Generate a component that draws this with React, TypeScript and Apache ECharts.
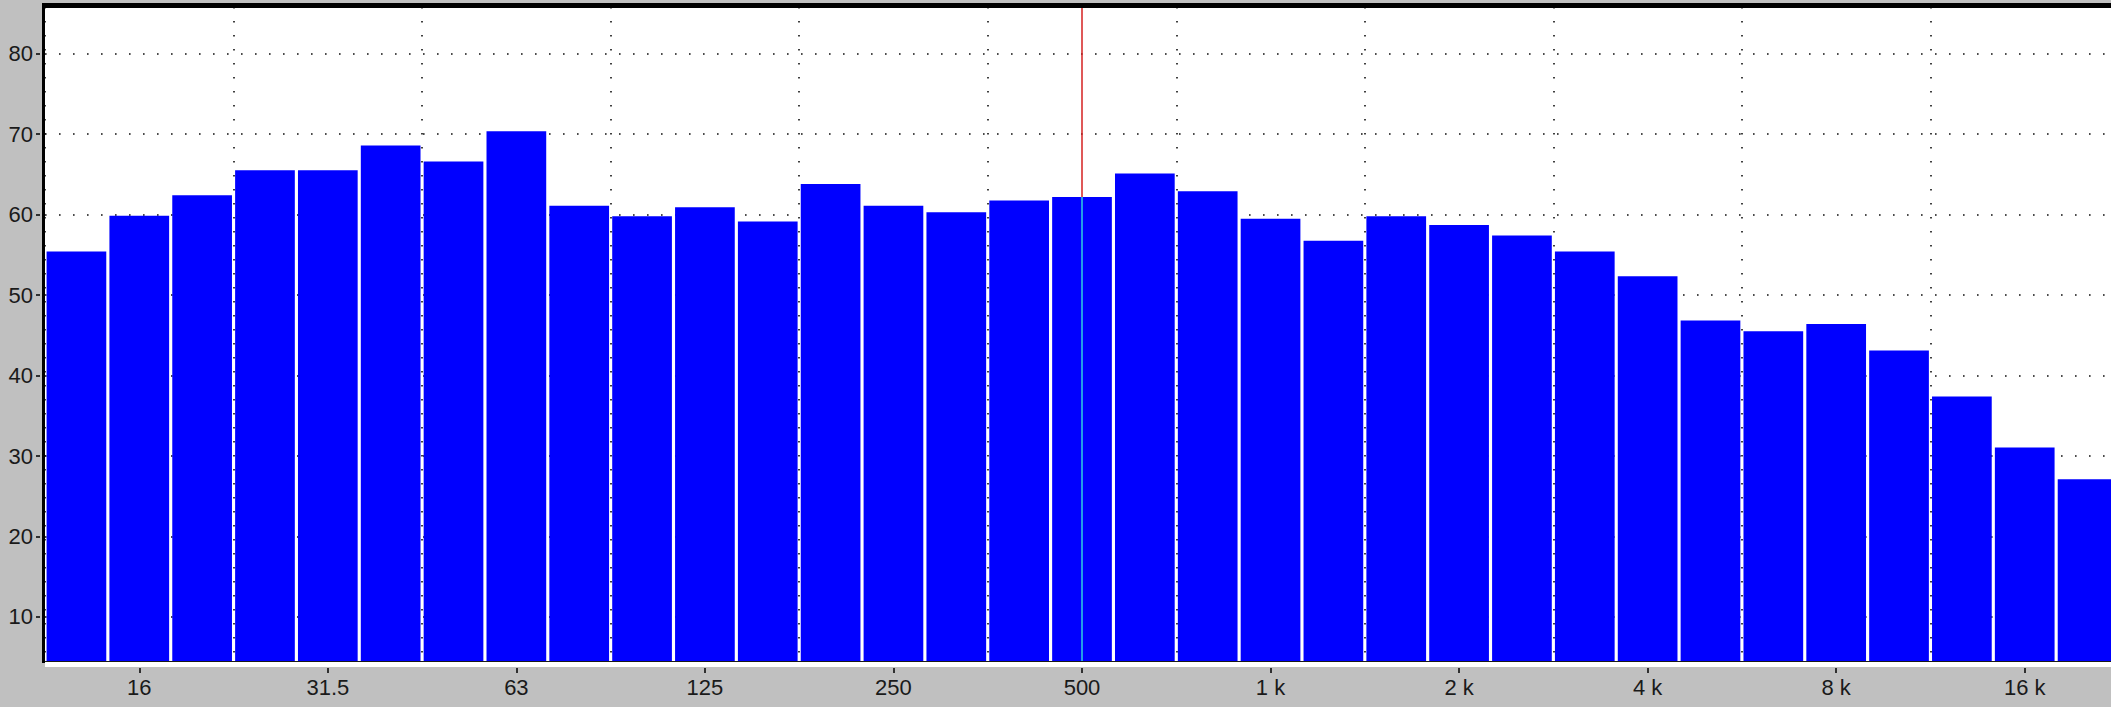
import React, { useEffect, useRef } from 'react';
import * as echarts from 'echarts';

const bands = ['12.5', '16', '20', '25', '31.5', '40', '50', '63', '80', '100', '125', '160', '200', '250', '315', '400', '500', '630', '800', '1 k', '1.25 k', '1.6 k', '2 k', '2.5 k', '3.15 k', '4 k', '5 k', '6.3 k', '8 k', '10 k', '12.5 k', '16 k', '20 k'];
const levels = [55.4, 59.85, 62.4, 65.5, 65.5, 68.6, 66.6, 70.35, 61.1, 59.8, 60.9, 59.15, 63.8, 61.1, 60.3, 61.75, 62.2, 65.1, 62.9, 59.5, 56.75, 59.8, 58.7, 57.4, 55.4, 52.35, 46.85, 45.5, 46.4, 43.1, 37.4, 31.05, 27.1];
const yTicks = [10, 20, 30, 40, 50, 60, 70, 80];
const yRange = [4.4, 85.8];
const cursorBand = '500';

export default function App() {
  const ref = useRef<HTMLDivElement>(null);
  useEffect(() => {
    if (!ref.current) return;
    const chart = echarts.init(ref.current, undefined, { renderer: 'svg' });
    const cursorLevel = levels[bands.indexOf(cursorBand)];
    const dotted = { color: '#111', width: 1.6, type: [1.6, 12.4] as any };
    const font = { fontFamily: 'Liberation Sans, Arial, sans-serif', fontSize: 22, color: '#1a1a1a' };
    chart.setOption({
      animation: false,
      backgroundColor: '#c0c0c0',
      grid: { left: 45, top: 7, width: 2074, height: 655, show: true, backgroundColor: '#ffffff', borderWidth: 0 },
      xAxis: {
        type: 'category',
        data: bands,
        boundaryGap: true,
        offset: 6,
        axisLine: { show: false },
        axisTick: { show: true, alignWithLabel: true, interval: (i: number) => i % 3 === 1, length: 5, lineStyle: { color: '#000', width: 1.5 } },
        axisLabel: { interval: (i: number) => i % 3 === 1, margin: 8, ...font },
        splitLine: { show: true, interval: (i: number) => i % 3 === 0, lineStyle: dotted },
      },
      yAxis: {
        type: 'value',
        min: yRange[0],
        max: yRange[1],
        offset: 5,
        axisLine: { show: false },
        axisTick: { show: true, length: 4, customValues: yTicks, lineStyle: { color: '#000', width: 1.5 } },
        axisLabel: { customValues: yTicks, margin: 7, ...font },
        splitLine: { show: true, lineStyle: dotted },
      },
      series: [
        {
          type: 'bar',
          data: levels,
          barCategoryGap: '5%',
          itemStyle: { color: '#0000ff' },
          markLine: {
            silent: true,
            symbol: ['none', 'none'],
            label: { show: false },
            lineStyle: { type: 'solid', width: 1.5 },
            data: [
              [{ coord: [cursorBand, yRange[1]], lineStyle: { color: '#d42020', type: 'solid', width: 1.5 } }, { coord: [cursorBand, cursorLevel] }],
              [{ coord: [cursorBand, cursorLevel], lineStyle: { color: '#30d0e0', type: 'solid', width: 1.5 } }, { coord: [cursorBand, yRange[0]] }],
            ],
          },
        },
      ],
      graphic: [
        { type: 'rect', z: 100, shape: { x: 42, y: 3, width: 3, height: 660 }, style: { fill: '#000' } },
        { type: 'rect', z: 100, shape: { x: 42, y: 3, width: 2100, height: 5 }, style: { fill: '#000' } },
        { type: 'rect', z: 100, shape: { x: 45, y: 661, width: 2100, height: 1 }, style: { fill: '#1a1a1a' } },
        { type: 'rect', z: 100, shape: { x: 45, y: 662, width: 2100, height: 5 }, style: { fill: '#ffffff' } },
      ],
    });
    return () => chart.dispose();
  }, []);
  return (
    <div style={{ position: 'absolute', left: 0, top: 0, width: 2111, height: 707, overflow: 'hidden' }}>
      <div ref={ref} style={{ width: 2135, height: 707 }} />
    </div>
  );
}
